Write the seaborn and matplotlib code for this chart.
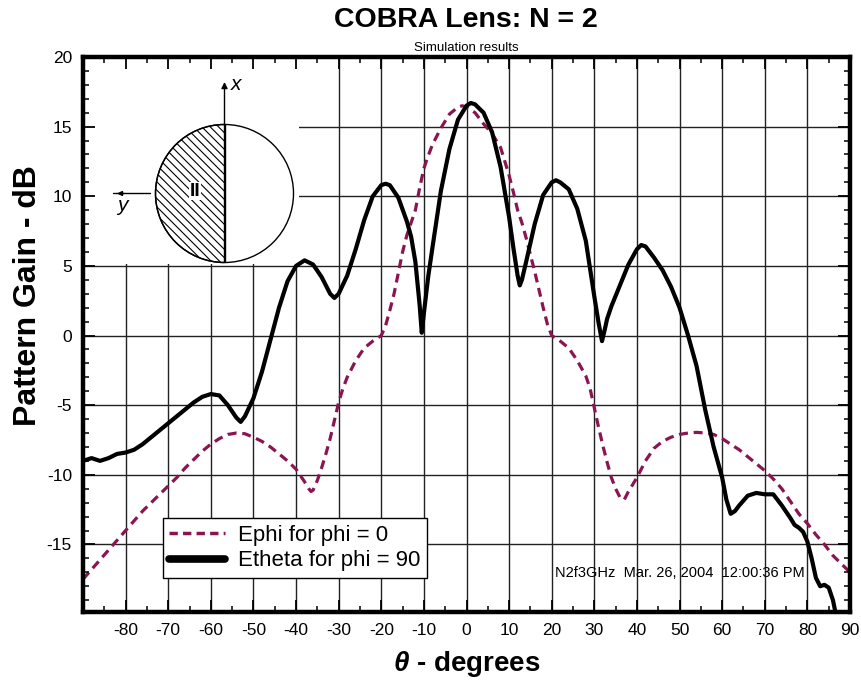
import matplotlib
matplotlib.use("Agg")
import matplotlib.pyplot as plt
import numpy as np
import pandas as pd
import seaborn as sns
from matplotlib import font_manager as fm
from matplotlib.lines import Line2D
from matplotlib.patches import Rectangle, Wedge, Circle
from matplotlib.ticker import MultipleLocator

# ---------------- data ----------------
theta_x = [-90, -88, -86, -84, -82, -80, -78, -76, -74, -72, -70, -68, -66, -64, -62,
           -60, -58, -56, -54, -53, -52, -50, -48, -46, -44, -42, -40, -38, -36, -34,
           -32, -31, -30, -28, -26, -24, -22, -20, -19, -18, -16, -14, -13, -12, -11,
           -10.5, -10, -9, -8, -6, -4, -2, 0, 1, 2, 4, 6, 8, 10, 11, 12, 12.5, 13, 14,
           16, 18, 20, 21, 22, 24, 26, 28, 30, 31, 31.8, 32.5, 33, 34, 36, 38, 40, 41,
           42, 44, 46, 48, 50, 52, 54, 56, 58, 60, 61, 62, 63, 64, 66, 68, 70, 72, 74,
           76, 77, 78, 79, 80, 81, 82, 83, 84, 85, 86, 87]
theta_gain = [-9.0, -8.8, -9.0, -8.8, -8.5, -8.4, -8.2, -7.8, -7.3, -6.8, -6.3, -5.8, -5.3, -4.8, -4.4,
              -4.2, -4.3, -5.0, -5.9, -6.2, -5.8, -4.5, -2.6, -0.3, 2.0, 3.9, 5.0, 5.4, 5.1, 4.2,
              3.0, 2.7, 3.0, 4.3, 6.2, 8.3, 10.0, 10.8, 10.9, 10.8, 9.9, 8.2, 7.1, 5.3, 2.2,
              0.2, 1.6, 4.2, 6.3, 10.4, 13.4, 15.5, 16.5, 16.7, 16.6, 16.0, 14.6, 12.1, 8.5, 6.3, 4.3, 3.6, 4.0, 5.3,
              8.0, 10.1, 11.0, 11.15, 11.0, 10.5, 9.1, 6.8, 2.8, 0.9, -0.4, 0.5, 1.2, 2.1, 3.6, 5.1, 6.2, 6.5,
              6.4, 5.6, 4.7, 3.5, 2.0, 0.0, -2.2, -5.3, -8.0, -10.2, -11.8, -12.8, -12.6, -12.2, -11.5, -11.3, -11.4, -11.4, -12.2,
              -13.1, -13.6, -13.8, -14.1, -14.8, -16.0, -17.4, -18.0, -17.9, -18.1, -19.0, -20.5]

phi_x = [-90, -88, -86, -84, -82, -80, -78, -76, -74, -72, -70, -68, -66, -64, -62, -60,
         -58, -56, -54, -52, -50, -48, -46, -44, -42, -40, -38, -37, -36.5, -36, -35, -34,
         -33, -32, -31, -30, -29, -28, -26, -24, -22, -20, -19, -18, -17, -16, -15, -14,
         -13, -12, -11, -10, -9, -8, -6, -4, -2, -1, 0, 2, 4, 6, 8, 10, 11, 12, 13, 14,
         15, 16, 17, 18, 19, 20, 22, 24, 26, 28, 29, 30, 31, 32, 33, 34, 35, 36, 37, 38,
         40, 42, 44, 46, 48, 50, 52, 54, 56, 58, 60, 62, 64, 66, 68, 70, 72, 74, 76, 78,
         80, 82, 84, 86, 88, 90]
phi_gain = [-17.5, -16.8, -16.1, -15.4, -14.7, -14.0, -13.3, -12.6, -12.0, -11.4, -10.8, -10.2, -9.5, -8.9, -8.3, -7.8,
            -7.4, -7.1, -7.0, -7.05, -7.3, -7.6, -8.0, -8.5, -9.0, -9.6, -10.5, -11.0, -11.2, -11.1, -10.4, -9.5,
            -8.5, -7.4, -6.1, -4.8, -3.8, -3.0, -1.8, -0.9, -0.4, 0.0, 0.7, 1.8, 3.0, 4.5, 6.0, 7.2,
            8.1, 9.0, 10.6, 12.0, 12.9, 13.7, 14.9, 15.9, 16.4, 16.5, 16.4, 16.0, 15.2, 14.5, 13.5, 11.5, 10.3, 9.0, 8.1, 7.0,
            5.8, 4.6, 3.3, 2.0, 0.8, 0.0, -0.4, -0.9, -1.8, -2.9, -3.8, -5.2, -6.6, -7.9, -9.1, -10.2, -11.0, -11.6, -11.8, -11.2,
            -10.2, -9.0, -8.1, -7.6, -7.3, -7.1, -7.0, -6.95, -7.0, -7.1, -7.4, -7.8, -8.2, -8.7, -9.2, -9.7, -10.3, -11.0, -11.9, -12.8,
            -13.5, -14.3, -15.0, -15.8, -16.4, -17.0]

x_ticks = [-80, -70, -60, -50, -40, -30, -20, -10, 0, 10, 20, 30, 40, 50, 60, 70, 80, 90]
y_ticks = [-15, -10, -5, 0, 5, 10, 15, 20]
series_labels = ["Ephi for phi = 0", "Etheta for phi = 90"]
title_text = "COBRA Lens: N = 2"
subtitle_text = "Simulation results"
stamp_text = "N2f3GHz  Mar. 26, 2004  12:00:36 PM"

# ---------------- style ----------------
sns.set_theme(style="white")
names = {f.name for f in fm.fontManager.ttflist}
base = "Liberation Sans" if "Liberation Sans" in names else "DejaVu Sans"
narrow = "Liberation Sans Narrow" if "Liberation Sans Narrow" in names else base
plt.rcParams["font.family"] = [base, "DejaVu Sans"]
plt.rcParams["mathtext.fontset"] = "custom"
plt.rcParams["mathtext.rm"] = base
plt.rcParams["mathtext.it"] = base + ":italic"
plt.rcParams["mathtext.bf"] = base + ":bold"
plt.rcParams["mathtext.bfit"] = base + ":italic:bold"
plt.rcParams["hatch.linewidth"] = 0.8
plt.rcParams["axes.unicode_minus"] = False
plt.rcParams["text.color"] = "black"
plt.rcParams["axes.labelcolor"] = "black"
plt.rcParams["xtick.color"] = "black"
plt.rcParams["ytick.color"] = "black"

maroon = "#8a1550"

W, H = 861, 683
L, R, T, B = 83, 850, 57, 612
pos = [L / W, 1 - B / H, (R - L) / W, (B - T) / H]

fig = plt.figure(figsize=(W / 100, H / 100), dpi=100)
fig.patch.set_facecolor("white")

ax = fig.add_axes(pos)
ax.set_facecolor("white")

df_phi = pd.DataFrame({"theta": phi_x, "gain": phi_gain})
df_theta = pd.DataFrame({"theta": theta_x, "gain": theta_gain})

sns.lineplot(data=df_phi, x="theta", y="gain", ax=ax, color=maroon, lw=2.3,
             linestyle=(0, (2.8, 1.8)), estimator=None, sort=False, zorder=3)
sns.lineplot(data=df_theta, x="theta", y="gain", ax=ax, color="black", lw=3.0,
             estimator=None, sort=False, zorder=4)

ax.set_xlim(-90, 90)
ax.set_ylim(-19.85, 20)
ax.set_xticks(x_ticks)
ax.set_yticks(y_ticks)
ax.set_axisbelow(True)
ax.grid(True, which="major", color="#222222", lw=1.0)
ax.tick_params(which="both", length=0, labelbottom=False, labelleft=False)
for s in ax.spines.values():
    s.set_visible(False)
ax.set_xlabel("")
ax.set_ylabel("")

# white panel behind the inset diagram (covers grid)
ax.add_patch(Rectangle((-90, 5.12), 50.7, 15, facecolor="white", edgecolor="none", zorder=1))

# legend
handles = [Line2D([], [], color=maroon, lw=2.5, linestyle=(0, (2.4, 1.5))),
           Line2D([], [], color="black", lw=5.5, solid_capstyle="round")]
leg = ax.legend(handles, series_labels, loc="lower left", bbox_to_anchor=(0.104, 0.061),
                borderaxespad=0, fontsize=16, handlelength=2.5, handletextpad=0.6,
                borderpad=0.3, labelspacing=0.2, frameon=True, fancybox=False)
leg.get_frame().set_edgecolor("black")
leg.get_frame().set_linewidth(1.0)
leg.get_frame().set_alpha(1)
leg.set_zorder(6)

ax.text(0.615, 0.070, stamp_text, transform=ax.transAxes, fontsize=10.5,
        ha="left", va="center", zorder=6)

# overlay axes for frame, ticks and labels
axt = fig.add_axes(pos, sharex=ax, sharey=ax)
axt.patch.set_visible(False)
axt.grid(False)
axt.xaxis.set_minor_locator(MultipleLocator(5))
axt.yaxis.set_minor_locator(MultipleLocator(1))
axt.tick_params(which="both", direction="in", top=True, right=True, bottom=True, left=True,
                color="black")
axt.tick_params(which="major", length=8.5, width=1.3, labelsize=12.5, pad=8,
                labelfontfamily=narrow, labelcolor="black")
axt.tick_params(which="minor", length=4.5, width=1.1)
for s in axt.spines.values():
    s.set_linewidth(3.2)
    s.set_color("black")

axt.set_xlabel(r"$\boldsymbol{\theta}$ - degrees", fontsize=20, fontweight="bold")
axt.xaxis.set_label_coords(0.5, -0.066)
axt.set_ylabel("Pattern Gain - dB", fontsize=23, fontweight="bold")
axt.yaxis.set_label_coords(-0.052, 0.57)

fig.text(466 / W, 1 - 20 / H, title_text, fontsize=20.5, fontweight="bold", ha="center", va="center")
fig.text(466 / W, 1 - 48 / H, subtitle_text, fontsize=9.5, ha="center", va="center")

# inset diagram (pixel coordinates)
ix0, iy0, ix1, iy1 = 83, 57, 298, 265
axi = fig.add_axes([ix0 / W, 1 - iy1 / H, (ix1 - ix0) / W, (iy1 - iy0) / H])
axi.set_xlim(ix0, ix1)
axi.set_ylim(iy1, iy0)
axi.axis("off")
axi.patch.set_visible(False)
cx, cy, r = 224.5, 193.5, 69
axi.add_patch(Wedge((cx, cy), r, 90, 270, facecolor="white", edgecolor="black",
                    hatch="\\\\\\\\", lw=1.0))
axi.add_patch(Circle((cx, cy), r, fill=False, edgecolor="black", lw=1.0))
axi.plot([cx, cx], [cy - r, cy + r], color="black", lw=1.0)
axi.annotate("", xy=(cx, 82), xytext=(cx, cy - r),
             arrowprops=dict(arrowstyle="-|>", lw=1.0, color="black", mutation_scale=9,
                             shrinkA=0, shrinkB=0))
axi.plot([113, 150], [cy, cy], color="black", lw=1.0)
axi.annotate("", xy=(117, cy), xytext=(124, cy),
             arrowprops=dict(arrowstyle="-|>", lw=1.0, color="black", mutation_scale=7,
                             shrinkA=0, shrinkB=0))
axi.text(231, 85, "x", fontsize=15, style="italic", ha="left", va="center")
axi.text(122, 206, "y", fontsize=15, style="italic", ha="center", va="center")
axi.text(195, 191, "II", fontsize=14, fontweight="bold", ha="center", va="center",
         bbox=dict(facecolor="white", edgecolor="none", pad=0.5))

fig.savefig("out.png", dpi=100)
